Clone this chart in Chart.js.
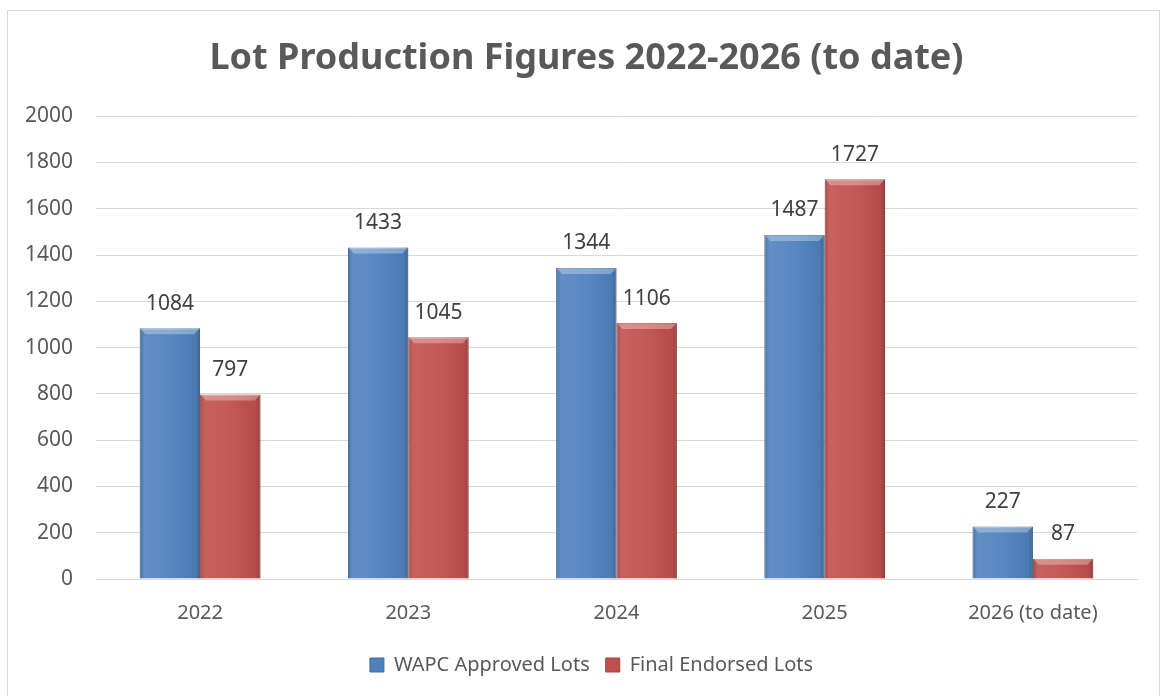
<!DOCTYPE html>
<html>
<head>
<meta charset="utf-8">
<script src="https://cdn.jsdelivr.net/npm/chart.js@4"></script>
<style>
  body { margin: 0; background: #fff; }
  #box { position: absolute; left: 7px; top: 10px; width: 1153px; height: 690px; border: 1px solid #d9d9d9; box-sizing: border-box; }
  #wrap { position: absolute; left: 0; top: 0; width: 1151px; height: 688px; }
</style>
</head>
<body>
<div id="box"><div id="wrap"><canvas id="chart"></canvas></div></div>
<script>
const categories = ['2022', '2023', '2024', '2025', '2026 (to date)'];
const wapcApproved = [1084, 1433, 1344, 1487, 227];
const finalEndorsed = [797, 1045, 1106, 1727, 87];
const yTicks = [0, 200, 400, 600, 800, 1000, 1200, 1400, 1600, 1800, 2000];

const fontFamily = "'Noto Sans', 'Open Sans', sans-serif";

// nudge title and legend so they sit centred like the original
const centerPlugin = {
  id: 'centerBlocks',
  afterLayout(chart) {
    if (chart.titleBlock) chart.titleBlock.left += 28;
    if (chart.legend) chart.legend.left += 38;
  }
};

// bevel look + value labels, drawn on top of the library's bars
const bevelPlugin = {
  id: 'bevel',
  afterDatasetsDraw(chart) {
    const ctx = chart.ctx;
    chart.data.datasets.forEach((ds, i) => {
      chart.getDatasetMeta(i).data.forEach((bar, j) => {
        const w = bar.width;
        const left = bar.x - w / 2;
        const top = bar.y;
        const h = bar.base - bar.y;
        ctx.save();
        const g = ctx.createLinearGradient(left, 0, left + w, 0);
        g.addColorStop(0, 'rgba(0,0,0,0.12)');
        g.addColorStop(0.08, 'rgba(255,255,255,0.10)');
        g.addColorStop(0.5, 'rgba(255,255,255,0.06)');
        g.addColorStop(0.92, 'rgba(0,0,0,0.05)');
        g.addColorStop(1, 'rgba(0,0,0,0.22)');
        ctx.fillStyle = g;
        ctx.fillRect(left, top, w, h);
        // top bevel
        ctx.fillStyle = 'rgba(255,255,255,0.30)';
        ctx.beginPath();
        ctx.moveTo(left, top);
        ctx.lineTo(left + w, top);
        ctx.lineTo(left + w - 6, top + 6);
        ctx.lineTo(left + 6, top + 6);
        ctx.closePath();
        ctx.fill();
        ctx.restore();

        ctx.save();
        ctx.fillStyle = '#404040';
        ctx.font = '21px ' + fontFamily;
        ctx.textAlign = 'center';
        ctx.textBaseline = 'bottom';
        ctx.fillText(ds.data[j], bar.x, bar.y - 14);
        ctx.restore();
      });
    });
  }
};

new Chart(document.getElementById('chart'), {
  type: 'bar',
  data: {
    labels: categories,
    datasets: [
      { label: 'WAPC Approved Lots', data: wapcApproved, backgroundColor: '#4f81bd', borderColor: '#3f6ea6', borderWidth: 1 },
      { label: 'Final Endorsed Lots', data: finalEndorsed, backgroundColor: '#c0504d', borderColor: '#a43f3c', borderWidth: 1 }
    ]
  },
  options: {
    responsive: true,
    maintainAspectRatio: false,
    animation: false,
    categoryPercentage: 0.58,
    barPercentage: 1.0,
    layout: { padding: { left: 0, right: 22, top: 6, bottom: 14 } },
    plugins: {
      title: {
        display: true,
        text: 'Lot Production Figures 2022-2026 (to date)',
        color: '#595959',
        font: { family: fontFamily, size: 36, weight: 'bold' },
        padding: { top: 20, bottom: 36 }
      },
      legend: {
        position: 'bottom',
        labels: {
          color: '#595959',
          font: { family: fontFamily, size: 20 },
          boxWidth: 14,
          boxHeight: 14,
          padding: 16
        }
      },
      tooltip: { enabled: false }
    },
    scales: {
      x: {
        grid: { display: false },
        border: { color: '#d9d9d9', width: 1 },
        ticks: { color: '#595959', font: { family: fontFamily, size: 20 }, padding: 14 }
      },
      y: {
        min: 0,
        max: 2000,
        afterBuildTicks: axis => { axis.ticks = yTicks.map(v => ({ value: v })); },
        afterFit: axis => { axis.width = 88; },
        grid: { color: '#d9d9d9', drawTicks: false },
        border: { display: false },
        ticks: { color: '#595959', font: { family: fontFamily, size: 21 }, padding: 23, callback: v => String(v) }
      }
    }
  },
  plugins: [centerPlugin, bevelPlugin]
});
</script>
</body>
</html>
